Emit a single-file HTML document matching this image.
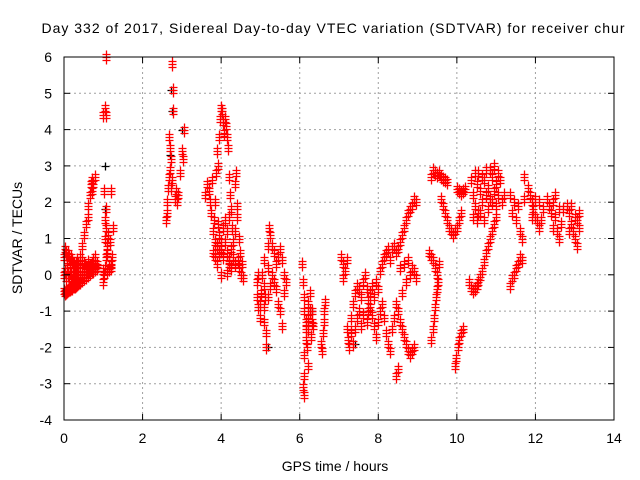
<!DOCTYPE html>
<html><head><meta charset="utf-8"><style>
html,body{margin:0;padding:0;background:#fff;}
svg{display:block;font-family:"Liberation Sans",sans-serif;}
</style></head><body>
<svg id="chart" width="640" height="480" xmlns="http://www.w3.org/2000/svg">
<rect width="640" height="480" fill="#fff"/>
<text x="333" y="33" font-size="14" text-anchor="middle" textLength="583">Day 332 of 2017, Sidereal Day-to-day VTEC variation (SDTVAR) for receiver chur</text>
<g id="grid"></g>
<g id="marks"></g>
<rect x="64" y="57" width="550" height="363" fill="none" stroke="#000" stroke-width="1"/>
<g id="axes"></g>
<text x="335" y="471" font-size="14" text-anchor="middle">GPS time / hours</text>
<text x="0" y="0" font-size="14" text-anchor="middle" transform="translate(22,238) rotate(-90)">SDTVAR / TECUs</text>
</svg>
<script>
const xTicks=[0,2,4,6,8,10,12,14];
const yTicks=[-4,-3,-2,-1,0,1,2,3,4,5,6];
const redPts=[
[0,-0.45],[0.02,-0.5],[0.05,-0.48],[0.08,-0.45],[0.1,-0.42],[0.12,-0.4],[0.15,-0.38],[0.18,-0.35],[0.2,-0.35],[0.22,-0.32],[0.25,-0.3],[0.28,-0.3],[0.3,-0.28],[0.33,-0.25],[0.36,-0.22],[0.4,-0.2],[0.45,-0.15],[0.5,-0.1],[0.55,-0.05],[0.6,0],[0.65,0.05],[0.7,0.1],[0.75,0.1],[0.8,0.15],[0.85,0.2],
[0,0],[0.02,0.1],[0.05,-0.1],[0.08,0.2],[0.1,0],[0.12,-0.1],[0.15,0.1],[0.18,0],[0.2,-0.2],[0.22,0.1],[0.25,0],[0.28,-0.1],[0.3,0.2],[0.33,0.1],[0.36,0],[0.4,-0.05],[0.45,0.1],[0.5,0],[0.55,0.15],[0.6,0.2],[0.65,0.25],[0.7,0.2],[0.75,0.3],[0.8,0.25],[0.85,0.2],
[0,0.5],[0.02,0.7],[0.05,0.6],[0.08,0.4],[0.1,0.6],[0.12,0.5],[0.15,0.3],[0.18,0.5],[0.2,0.4],[0.22,0.3],[0.25,0.3],[0.28,0.2],[0.3,0.3],[0.33,0.4],[0.36,0.3],[0.4,0.2],[0.45,0.4],[0.5,0.3],[0.55,0.2],[0.6,0.35],[0.65,0.2],[0.7,0.3],[0.75,0.4],[0.8,0.5],[0.85,0.3],
[0.3,0.1],[0.35,0.3],[0.4,0.5],[0.45,0.8],[0.5,1.1],[0.55,1.4],[0.6,1.6],[0.62,1.9],[0.65,2.2],[0.68,2.5],[0.7,2.6],[0.72,2.3],[0.75,2.5],[0.8,2.7],
[1.0,0.1],[1.02,0],[1.05,0.2],[1.08,0.5],[1.1,0.8],[1.05,1.0],[1.07,1.3],[1.06,1.8],[1.04,1.5],[1.1,0.6],[1.15,0.2],[1.2,0.3],[1.22,0.5],[1.18,0.9],[1.25,1.3],[1.2,2.3],[1.02,2.3],[1.06,4.4],[1.0,4.4],[1.05,4.6],[1.06,6.0],[1.1,0.1],[1.15,0.15],[1.2,0.2],[0.98,-0.2],[1.12,1.1],
[2.6,1.5],[2.62,1.7],[2.63,2.0],[2.65,2.4],[2.68,2.7],[2.7,2.9],[2.72,3.2],[2.7,3.5],[2.68,3.8],[2.74,2.6],[2.72,2.4],[2.75,5.8],[2.77,5.1],[2.77,4.5],[2.82,2.1],[2.85,2.3],[2.9,2.2],[2.88,2.0],[2.95,2.8],[3.0,3.4],[3.02,3.2],[3.05,4.0],
[3.6,2.2],[3.65,2.5],[3.7,2.3],[3.72,2.0],[3.75,1.7],[3.78,2.6],[3.8,1.2],[3.82,1.5],[3.85,0.9],[3.85,2.0],[3.88,2.8],[3.9,3.4],[3.92,3.0],[3.95,3.8],[3.98,4.3],[4.0,4.6],[4.02,4.5],[4.05,4.2],[4.08,3.9],[4.1,4.3],[4.12,4.1],[4.15,3.8],[4.18,3.5],[4.2,2.7],[4.22,2.2],[4.2,1.6],[4.25,1.8],[4.28,1.3],[4.3,0.9],[4.35,1.2],[4.4,1.6],[4.42,0.4],[4.45,0.2],[4.5,0.0],[4.55,-0.1],[4.52,0.3],[4.48,0.6],[4.45,1.0],[4.4,1.9],[4.35,2.5],[4.38,2.8],[3.8,0.6],[3.85,0.5],[3.9,0.3],[3.95,0.6],[4.0,0.7],[4.05,0.5],[4.1,0.9],[4.15,0.6],[4.2,0.4],[4.25,0.7],[4.3,0.5],[4.35,0.3],[4.0,0.9],[3.95,1.1],[4.05,1.3],[4.1,1.5],[4.15,1.2],[3.9,0.8],[3.92,1.4],[4.2,0.3],[4.25,0.2],[4.0,0.0],[4.15,0.05],
[4.9,-0.2],[4.92,-0.6],[4.95,-0.9],[5.0,-1.2],[5.02,-0.5],[5.05,0.0],[5.08,-0.3],[5.1,0.4],[5.12,-0.6],[5.15,-1.6],[5.15,-2.0],[5.1,-1.3],[5.18,0.2],[5.2,0.8],[5.22,1.3],[5.25,1.1],[5.3,0.8],[5.35,0.6],[5.4,0.3],[5.3,0.0],[5.25,-0.3],[5.2,-0.6],[5.35,-0.2],[5.4,-0.4],[5.45,-0.8],[5.5,-1.0],[5.45,0.5],[5.5,0.7],[5.55,0.4],[5.6,0.0],[5.6,-0.5],[5.65,-0.2],[5.55,-1.4],[5.0,-0.8],[5.1,-0.9],[4.95,0.0],
[6.05,0.3],[6.08,-0.2],[6.1,-0.6],[6.12,-1.0],[6.15,-1.3],[6.15,-1.8],[6.12,-2.2],[6.1,-2.8],[6.08,-3.1],[6.1,-3.3],[6.15,-1.5],[6.2,-1.2],[6.22,-1.5],[6.25,-1.0],[6.3,-1.3],[6.28,-1.7],[6.18,-2.0],[6.2,-0.8],[6.25,-0.5],[6.3,-1.0],[6.35,-1.4],[6.2,-2.5],
[6.55,-1.9],[6.57,-2.1],[6.6,-1.6],[6.62,-1.3],[6.63,-1.0],[6.65,-0.75],
[7.05,0.5],[7.1,0.3],[7.15,0.1],[7.2,0.4],[7.1,-0.1],
[7.2,-1.5],[7.22,-1.8],[7.25,-2.0],[7.3,-1.2],[7.35,-0.8],[7.4,-0.5],[7.45,-0.3],[7.5,-0.4],[7.55,-0.6],[7.6,-0.2],[7.65,0.0],[7.7,-0.4],[7.75,-0.7],[7.8,-0.5],[7.85,-0.3],[7.9,-0.6],[7.95,-0.2],[8.0,-0.4],[8.05,0.1],[8.1,0.3],[8.15,0.5],[8.2,0.6],[8.25,0.7],[8.3,0.4],[8.35,0.7],[8.4,0.8],[8.45,0.6],[8.5,0.7],[8.55,0.9],[8.6,1.1],[8.65,1.3],[8.7,1.5],[8.75,1.7],[8.8,1.8],[8.85,1.9],[8.9,2.1],[8.95,2.0],
[7.3,-1.6],[7.35,-1.9],[7.4,-1.5],[7.45,-1.2],[7.5,-1.0],[7.55,-1.4],[7.6,-1.1],[7.7,-1.3],[7.75,-1.0],[7.8,-0.9],[7.85,-1.1],[7.9,-1.4],[7.95,-1.7],[8.0,-1.3],[8.05,-1.0],[8.1,-0.8],[8.15,-1.2],[8.2,-1.6],[8.25,-1.9],[8.3,-2.1],[8.35,-1.5],[8.4,-1.2],[8.45,-0.8],[8.5,-1.0],[8.55,-1.3],[8.6,-1.5],[8.65,-1.7],[8.7,-1.9],[8.75,-2.1],[8.8,-2.2],[8.85,-2.1],[8.9,-2.0],[8.5,-2.6],[8.45,-2.8],[8.6,-0.5],[8.7,-0.2],[8.8,0.0],[8.9,0.1],[8.95,-0.1],[8.65,0.3],[8.55,0.2],[8.75,0.4],[8.85,0.2],
[9.3,0.6],[9.35,0.5],[9.4,0.4],[9.45,0.2],[9.5,0.0],[9.55,0.3],[9.35,-1.8],[9.38,-1.5],[9.42,-1.2],[9.45,-0.9],[9.48,-0.6],[9.5,-0.4],[9.52,-0.2],
[9.95,-2.5],[9.98,-2.3],[10.02,-2.0],[10.05,-1.8],[10.1,-1.6],[10.15,-1.5],
[9.35,2.7],[9.4,2.9],[9.45,2.8],[9.5,2.75],[9.55,2.8],[9.6,2.7],[9.65,2.65],[9.7,2.6],[9.75,2.55],
[9.6,2.1],[9.65,1.9],[9.7,1.7],[9.75,1.5],[9.8,1.3],[9.85,1.2],[9.9,1.1],[9.95,1.2],[10.0,1.3],[10.05,1.5],[10.1,1.7],
[10.0,2.35],[10.05,2.3],[10.1,2.25],[10.15,2.3],[10.2,2.35],
[10.35,2.6],[10.4,2.2],[10.45,1.9],[10.5,2.5],[10.55,2.8],[10.6,2.3],[10.65,2.0],[10.7,2.6],[10.75,2.9],[10.8,2.4],[10.85,2.1],[10.9,2.7],[10.95,3.0],[11.0,2.5],[11.05,2.2],[11.1,2.6],[11.15,2.0],[10.4,1.6],[10.5,1.5],[10.6,1.7],[10.7,1.5],[10.8,1.8],[10.9,2.0],[11.0,1.9],[10.45,2.8],[10.65,2.7],[10.85,2.9],[11.05,2.8],[10.55,1.7],[10.75,2.2],[10.95,2.3],[11.2,2.2],
[10.3,-0.2],[10.35,-0.35],[10.4,-0.45],[10.45,-0.4],[10.5,-0.3],[10.55,-0.2],[10.6,-0.05],[10.65,0.1],[10.7,0.35],[10.75,0.6],[10.8,0.8],[10.85,1.0],[10.9,1.2],[10.95,1.4],[11.0,1.6],
[11.35,-0.3],[11.4,-0.1],[11.45,0.0],[11.5,0.2],[11.55,0.3],[11.6,0.5],[11.65,0.4],
[11.35,2.2],[11.4,1.7],[11.45,2.0],[11.5,1.5],[11.55,1.9],[11.6,1.2],[11.65,1.0],[11.7,2.1],[11.7,2.7],
[11.8,2.4],[11.85,2.2],[11.9,2.0],[11.95,1.8],[12.0,1.6],[12.05,1.5],[12.1,1.3],[12.15,1.5],[12.2,1.8],[11.9,1.6],[12.0,2.1],[12.1,2.0],
[12.3,2.1],[12.35,1.9],[12.4,1.7],[12.45,2.0],[12.5,1.6],[12.55,1.2],[12.6,1.0],[12.65,1.4],[12.7,1.8],[12.5,2.2],[12.6,1.8],[12.45,1.3],
[12.8,1.9],[12.85,1.7],[12.9,1.4],[12.95,1.2],[13.0,1.6],[13.05,1.5],[13.1,1.3],[12.9,1.9],[13.0,1.0],[13.05,0.8],[12.85,1.2],[13.1,1.7]
];
const blackPts=[[1.05,3.0],[1.04,1.8],[2.72,5.1],[2.75,4.5],[3.0,4.0],[2.7,3.3],[5.2,-2.0],[6.3,-1.0],[7.4,-1.9]];

const X0=64,X1=614,Y0=420,Y1=57;
function xs(t){return X0+(t-0)/(14-0)*(X1-X0);}
function ys(v){return Y0-(v-(-4))/(6-(-4))*(Y0-Y1);}
const NS="http://www.w3.org/2000/svg";
const grid=document.getElementById('grid'),axes=document.getElementById('axes'),marks=document.getElementById('marks');
function mk(tag,attrs,parent){const e=document.createElementNS(NS,tag);for(const k in attrs)e.setAttribute(k,attrs[k]);parent.appendChild(e);return e;}
xTicks.forEach(t=>{
 const x=xs(t);
 if(t>0&&t<14){const g=mk('line',{x1:x,y1:Y1,x2:x,y2:Y0,stroke:'#a0a0a0','stroke-dasharray':'2,3'},grid);
 
 }
 const a=mk('line',{x1:x,y1:Y0,x2:x,y2:Y0-6,stroke:'#000'},axes);
 
 
 const b=mk('line',{x1:x,y1:Y1,x2:x,y2:Y1+6,stroke:'#000'},axes);
 
 
 const l=mk('text',{x:x,y:443,'font-size':14,'text-anchor':'middle'},axes);
 l.textContent=t;
 
 
});
yTicks.forEach(v=>{
 const y=ys(v);
 if(v>-4&&v<6){const g=mk('line',{x1:X0,y1:y,x2:X1,y2:y,stroke:'#a0a0a0','stroke-dasharray':'2,3'},grid);
 
 }
 const a=mk('line',{x1:X0,y1:y,x2:X0+6,y2:y,stroke:'#000'},axes);
 
 
 const b=mk('line',{x1:X1,y1:y,x2:X1-6,y2:y,stroke:'#000'},axes);
 
 
 const l=mk('text',{x:52,y:y+5,'font-size':14,'text-anchor':'end'},axes);
 l.textContent=v;
 
 
});
function plus(p,color,name,spread){
 const x=Math.round(xs(p[0]))+0.5,y=Math.round(ys(p[1]))+0.5;
 let d='';
 spread.forEach(o=>{const yy=y+o;d+=`M${x-4} ${yy}H${x+4}M${x} ${yy-4}V${yy+4}`;});
 const e=mk('path',{d:d,stroke:color,'stroke-width':1.3,fill:'none'},marks);
 
 
}
blackPts.forEach(p=>plus(p,'#000000','black-point',[0]));
redPts.forEach(p=>plus(p,'#ff0000','red-point',[-3,0,3]));
</script>
</body></html>
